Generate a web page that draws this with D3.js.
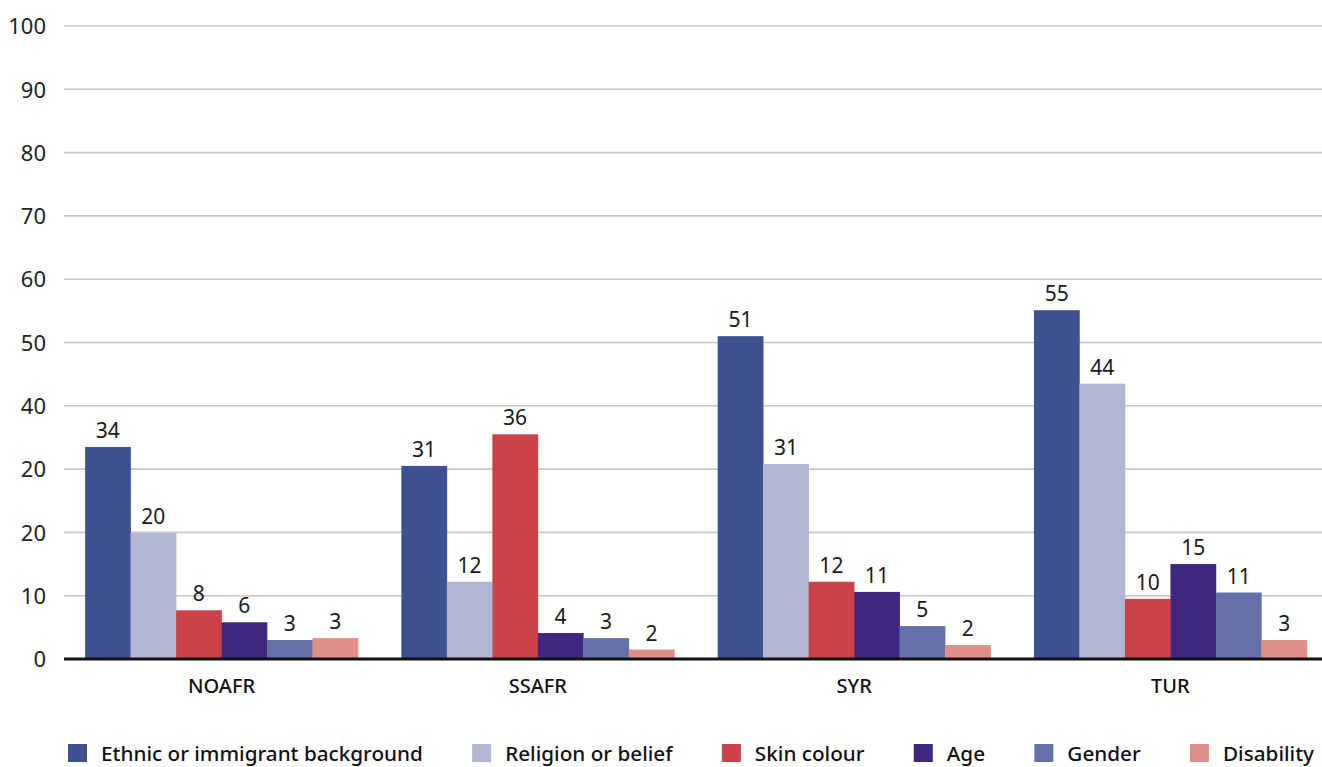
<!DOCTYPE html>
<html><head><meta charset="utf-8">
<script src="https://cdn.jsdelivr.net/npm/d3@7"></script>
<style>html,body{margin:0;padding:0;background:#fff;overflow:hidden}</style>
</head><body>
<svg id="chart" width="1322" height="767"></svg>
<script>
const categories = ["NOAFR", "SSAFR", "SYR", "TUR"];
const seriesNames = ["Ethnic or immigrant background", "Religion or belief", "Skin colour", "Age", "Gender", "Disability"];
const seriesColors = ["#3e5191", "#b3b5d5", "#c94348", "#3f2680", "#6570a7", "#df8f85"];
// bar heights (values per category, series order)
const ethnic     = [33.5, 30.5, 51.0, 55.1];
const religion   = [19.9, 12.2, 30.8, 43.5];
const skin       = [7.7, 35.5, 12.2, 9.5];
const age        = [5.8, 4.1, 10.6, 15.0];
const gender     = [3.0, 3.3, 5.2, 10.5];
const disability = [3.3, 1.5, 2.2, 3.0];
// y tick values and their printed labels (the original prints "20" at the 30 line)
const yTickValues = [0, 10, 20, 30, 40, 50, 60, 70, 80, 90, 100];
const yTickLabels = ["0", "10", "20", "20", "40", "50", "60", "70", "80", "90", "100"];

const series = [ethnic, religion, skin, age, gender, disability];
const FONT = "'Noto Sans', sans-serif";
const svg = d3.select("#chart");

const y = d3.scaleLinear().domain([0, 100]).range([659, 26]);
const x0 = d3.scaleBand().domain(categories).range([62, 1330]).paddingInner(0.137).paddingOuter(0.073);
const x1 = d3.scaleBand().domain(d3.range(seriesNames.length)).range([0, x0.bandwidth()]);

// gridlines
svg.append("g").selectAll("line").data(yTickValues.filter(v => v > 0)).join("line")
  .attr("x1", 64).attr("x2", 1322)
  .attr("y1", d => y(d)).attr("y2", d => y(d))
  .attr("stroke", "#c6c6c6").attr("stroke-width", 1.6);

// y axis labels
const yAxis = d3.axisLeft(y).tickValues(yTickValues).tickSize(0).tickPadding(0)
  .tickFormat((d, i) => yTickLabels[i]);
const gy = svg.append("g").attr("transform", "translate(46,0)").call(yAxis);
gy.select(".domain").remove();
gy.selectAll("text").attr("font-family", FONT).attr("font-size", 22).attr("fill", "#222").attr("dy", "0.35em");

// bars
const groups = svg.append("g").selectAll("g").data(categories).join("g")
  .attr("transform", d => `translate(${x0(d)},0)`);
groups.each(function(cat, ci) {
  const g = d3.select(this);
  const vals = series.map(s => s[ci]);
  g.selectAll("rect").data(vals).join("rect")
    .attr("x", (d, i) => x1(i)).attr("width", x1.bandwidth() + 0.3)
    .attr("y", d => y(d)).attr("height", d => y(0) - y(d))
    .attr("fill", (d, i) => seriesColors[i]);
  g.selectAll("text").data(vals).join("text")
    .attr("x", (d, i) => x1(i) + x1.bandwidth() / 2)
    .attr("y", d => y(d) - 9)
    .attr("text-anchor", "middle")
    .attr("font-family", FONT).attr("font-size", 21).attr("fill", "#1a1a1a")
    .text(d => Math.round(d));
});

// x axis
const xAxis = d3.axisBottom(x0).tickSize(0).tickPadding(0);
const gx = svg.append("g").attr("transform", "translate(0,659)").call(xAxis);
gx.select(".domain").remove();
gx.selectAll("text").attr("font-family", FONT).attr("font-size", 20).attr("font-weight", 500).attr("fill", "#111")
  .attr("dy", null).attr("y", 34);
svg.append("line").attr("x1", 64).attr("x2", 1322).attr("y1", 659).attr("y2", 659)
  .attr("stroke", "#111").attr("stroke-width", 3);

// legend
const legend = svg.append("g");
const items = legend.selectAll("g").data(seriesNames).join("g");
items.append("rect").attr("width", 19).attr("height", 18).attr("y", 744)
  .attr("fill", (d, i) => seriesColors[i]);
items.append("text").attr("x", 33).attr("y", 761)
  .attr("font-family", FONT).attr("font-size", 20.7).attr("font-weight", 500).attr("fill", "#111").text(d => d);
const widths = [];
items.select("text").each(function() { widths.push(this.getComputedTextLength()); });
const startX = 68, endX = 1314;
const totalItems = d3.sum(widths) + 33 * seriesNames.length;
const gap = (endX - startX - totalItems) / (seriesNames.length - 1);
let cx = startX;
items.each(function(d, i) {
  d3.select(this).attr("transform", `translate(${cx},0)`);
  cx += 33 + widths[i] + gap;
});
</script>
</body></html>
